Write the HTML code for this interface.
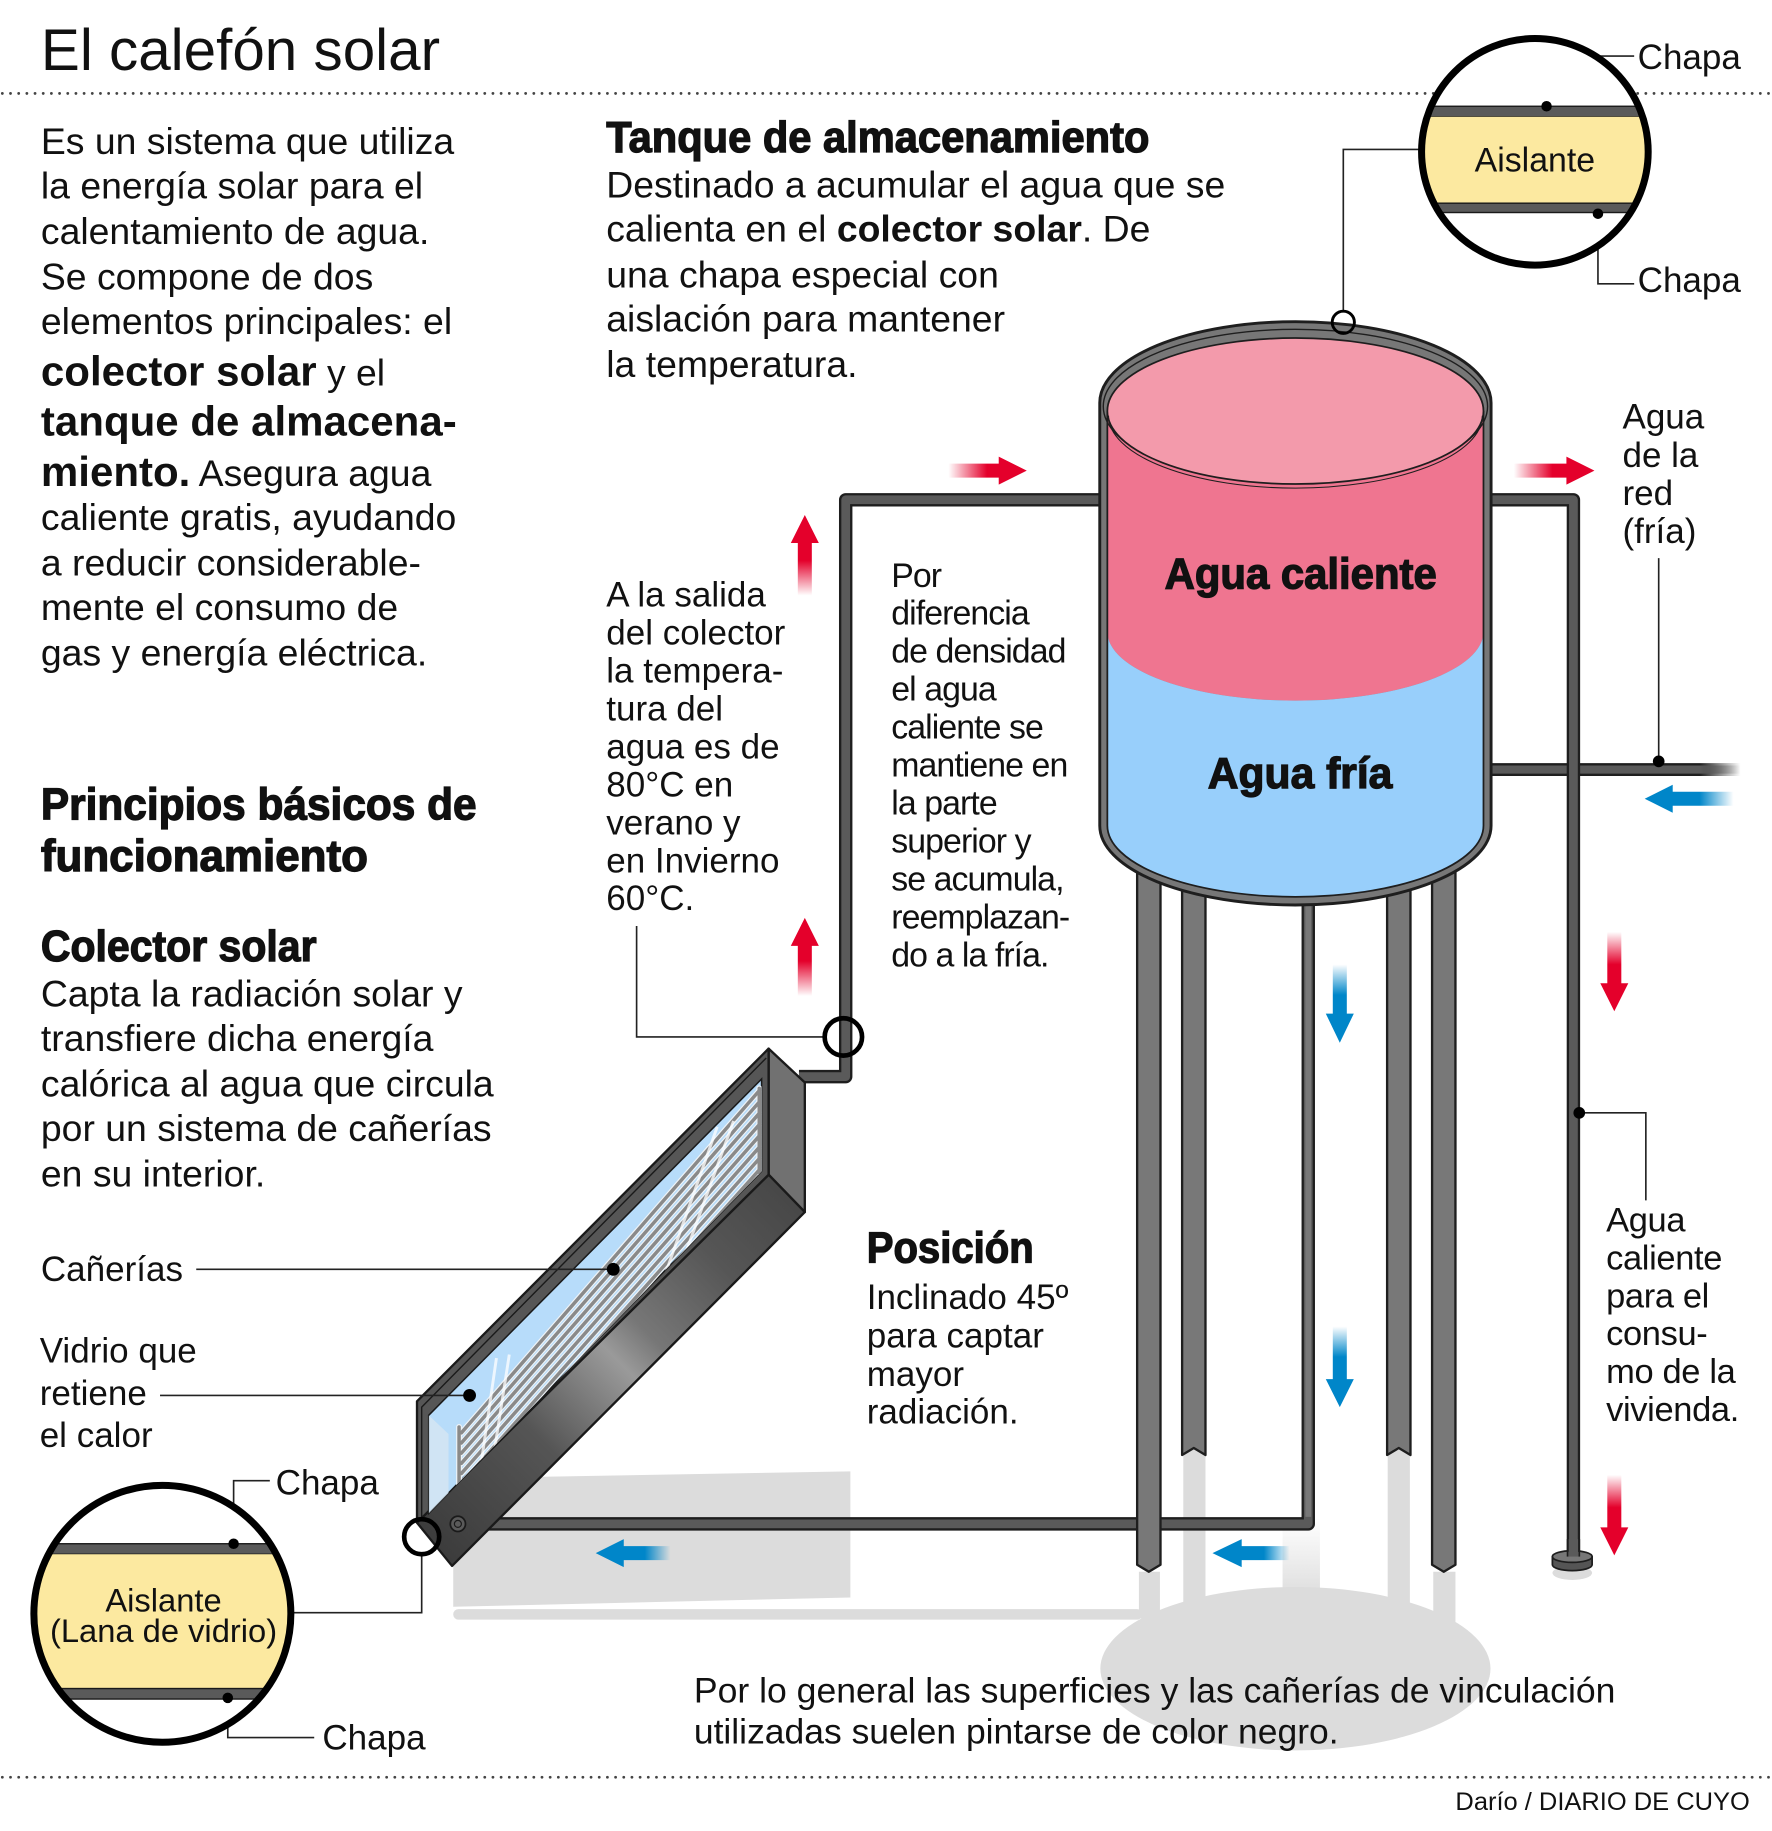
<!DOCTYPE html>
<html><head><meta charset="utf-8"><style>
html,body{margin:0;padding:0;background:#fff;overflow:hidden}
svg{display:block}
text{font-family:"Liberation Sans",Arial,sans-serif;fill:#111}
.h{font-weight:bold;stroke:#111;stroke-width:1.1}
</style></head><body>
<svg xmlns="http://www.w3.org/2000/svg" width="1772" height="1831" viewBox="0 0 1517 1568" preserveAspectRatio="none">
<defs>
<linearGradient id="gR1" gradientUnits="userSpaceOnUse" x1="812" y1="0" x2="845" y2="0"><stop offset="0" stop-color="#e4002b" stop-opacity="0"/><stop offset="1" stop-color="#e4002b"/></linearGradient>
<linearGradient id="gR2" gradientUnits="userSpaceOnUse" x1="1296" y1="0" x2="1329" y2="0"><stop offset="0" stop-color="#e4002b" stop-opacity="0"/><stop offset="1" stop-color="#e4002b"/></linearGradient>
<linearGradient id="gU1" gradientUnits="userSpaceOnUse" x1="0" y1="510" x2="0" y2="480"><stop offset="0" stop-color="#e4002b" stop-opacity="0"/><stop offset="1" stop-color="#e4002b"/></linearGradient>
<linearGradient id="gU2" gradientUnits="userSpaceOnUse" x1="0" y1="853" x2="0" y2="823"><stop offset="0" stop-color="#e4002b" stop-opacity="0"/><stop offset="1" stop-color="#e4002b"/></linearGradient>
<linearGradient id="gD1" gradientUnits="userSpaceOnUse" x1="0" y1="798" x2="0" y2="826"><stop offset="0" stop-color="#e4002b" stop-opacity="0"/><stop offset="1" stop-color="#e4002b"/></linearGradient>
<linearGradient id="gD2" gradientUnits="userSpaceOnUse" x1="0" y1="1263" x2="0" y2="1291"><stop offset="0" stop-color="#e4002b" stop-opacity="0"/><stop offset="1" stop-color="#e4002b"/></linearGradient>
<linearGradient id="gB1" gradientUnits="userSpaceOnUse" x1="1484" y1="0" x2="1455" y2="0"><stop offset="0" stop-color="#0086c9" stop-opacity="0"/><stop offset="1" stop-color="#0086c9"/></linearGradient>
<linearGradient id="gB2" gradientUnits="userSpaceOnUse" x1="0" y1="826" x2="0" y2="852"><stop offset="0" stop-color="#0086c9" stop-opacity="0"/><stop offset="1" stop-color="#0086c9"/></linearGradient>
<linearGradient id="gB3" gradientUnits="userSpaceOnUse" x1="0" y1="1136" x2="0" y2="1162"><stop offset="0" stop-color="#0086c9" stop-opacity="0"/><stop offset="1" stop-color="#0086c9"/></linearGradient>
<linearGradient id="gB4" gradientUnits="userSpaceOnUse" x1="574" y1="0" x2="552" y2="0"><stop offset="0" stop-color="#0086c9" stop-opacity="0"/><stop offset="1" stop-color="#0086c9"/></linearGradient>
<linearGradient id="gB5" gradientUnits="userSpaceOnUse" x1="1104" y1="0" x2="1082" y2="0"><stop offset="0" stop-color="#0086c9" stop-opacity="0"/><stop offset="1" stop-color="#0086c9"/></linearGradient>
<linearGradient id="gPipeO" gradientUnits="userSpaceOnUse" x1="1455" y1="0" x2="1490" y2="0"><stop offset="0" stop-color="#1e1e1e"/><stop offset="1" stop-color="#1e1e1e" stop-opacity="0"/></linearGradient>
<linearGradient id="gPipeI" gradientUnits="userSpaceOnUse" x1="1455" y1="0" x2="1490" y2="0"><stop offset="0" stop-color="#5a5a5a"/><stop offset="1" stop-color="#5a5a5a" stop-opacity="0"/></linearGradient>
<linearGradient id="gBottom" gradientUnits="userSpaceOnUse" x1="370" y1="1322" x2="675" y2="1020"><stop offset="0" stop-color="#3c3c3c"/><stop offset="0.3" stop-color="#555"/><stop offset="0.52" stop-color="#9a9a9a"/><stop offset="0.6" stop-color="#777"/><stop offset="0.8" stop-color="#565656"/><stop offset="1" stop-color="#474747"/></linearGradient>
<linearGradient id="gShad" gradientUnits="userSpaceOnUse" x1="0" y1="1300" x2="0" y2="1370"><stop offset="0" stop-color="#dcdcdc" stop-opacity="0"/><stop offset="1" stop-color="#dcdcdc"/></linearGradient>
<clipPath id="cGlass"><polygon points="367,1212 652,924 652,1003 367,1296"/></clipPath>
<clipPath id="cTop"><circle cx="1314" cy="130" r="97"/></clipPath>
<clipPath id="cBot"><circle cx="139" cy="1382" r="110"/></clipPath>
</defs>

<!-- shadows (background) -->
<polygon points="388,1266 728,1260 728,1368 388,1376" fill="#dcdcdc"/>
<rect x="388" y="1378" width="590" height="9" rx="4.5" fill="#dcdcdc"/>
<ellipse cx="1109" cy="1429" rx="167" ry="70" fill="#dcdcdc"/>
<rect x="975" y="1346" width="18" height="40" fill="#dcdcdc"/>
<rect x="1013" y="1240" width="19" height="160" fill="#dcdcdc"/>
<rect x="1188" y="1240" width="19" height="160" fill="#dcdcdc"/>
<rect x="1227" y="1346" width="19" height="80" fill="#dcdcdc"/>
<rect x="1098" y="1300" width="32" height="70" fill="url(#gShad)"/>
<ellipse cx="1346" cy="1347" rx="17" ry="6" fill="#dcdcdc"/>

<!-- dotted rules -->
<line x1="2" y1="80" x2="1517" y2="80" stroke="#444" stroke-width="2.4" stroke-dasharray="0 7" stroke-linecap="round"/>
<line x1="2" y1="1522" x2="1517" y2="1522" stroke="#444" stroke-width="2.4" stroke-dasharray="0 7" stroke-linecap="round"/>

<!-- pipes -->
<g fill="none" stroke-linejoin="round">
<path d="M684,922 H724 V428 H950" stroke="#1e1e1e" stroke-width="11.5"/>
<path d="M684,922 H724 V428 H950" stroke="#5a5a5a" stroke-width="7.5"/>
<path d="M1268,659 H1490" stroke="url(#gPipeO)" stroke-width="11"/>
<path d="M1268,659 H1490" stroke="url(#gPipeI)" stroke-width="7"/>
<path d="M1268,428 H1347 V1334" stroke="#1e1e1e" stroke-width="11.5"/>
<path d="M1268,428 H1347 V1334" stroke="#5a5a5a" stroke-width="7.5"/>
<path d="M392,1305 H1120 V760" stroke="#1e1e1e" stroke-width="11.5"/>
<path d="M392,1305 H1120 V760" stroke="#5a5a5a" stroke-width="7.5"/>
</g>
<line x1="1120" y1="770" x2="1120" y2="1299" stroke="#777" stroke-width="5"/>

<!-- pipe base -->
<path d="M1329,1333 V1340 A17,5 0 0 0 1363,1340 V1333 Z" fill="#555" stroke="#1e1e1e" stroke-width="1.5"/>
<ellipse cx="1346" cy="1333" rx="17" ry="5" fill="#777" stroke="#1e1e1e" stroke-width="1.5"/>
<rect x="1343" y="1318" width="8" height="15" fill="#5a5a5a"/>
<line x1="1342" y1="1318" x2="1342" y2="1333" stroke="#1e1e1e" stroke-width="1.5"/>
<line x1="1352" y1="1318" x2="1352" y2="1333" stroke="#1e1e1e" stroke-width="1.5"/>

<!-- legs -->
<g fill="#787878" stroke="#1e1e1e" stroke-width="2" stroke-linejoin="round">
<path d="M973.5,740 V1340 L983.5,1346 L993.5,1340 V740 Z"/>
<path d="M1012,760 V1246 L1022,1240 L1032,1246 V760 Z"/>
<path d="M1187.5,760 V1246 L1197.5,1240 L1207.5,1246 V760 Z"/>
<path d="M1226,740 V1340 L1236,1346 L1246,1340 V740 Z"/>
</g>

<!-- tank -->
<path d="M941.5,345 A167.5,69.5 0 0 1 1276.5,345 V707 A167.5,68 0 0 1 941.5,707 Z" fill="#777" stroke="#1e1e1e" stroke-width="2.5"/>
<path d="M948,352 H1270 V541 A161,59 0 0 1 948,541 Z" fill="#ef7590"/>
<path d="M948,541 A161,59 0 0 0 1270,541 V707 A161,61 0 0 1 948,707 Z" fill="#98cffb"/>
<path d="M948,352 V707 A161,61 0 0 0 1270,707 V352" fill="none" stroke="#1e1e1e" stroke-width="1.5"/>
<ellipse cx="1109" cy="348" rx="164.5" ry="66" fill="none" stroke="#1e1e1e" stroke-width="1.2"/>
<ellipse cx="1109" cy="352" rx="161" ry="62.5" fill="#f39aab" stroke="#1e1e1e" stroke-width="1.5"/>
<path d="M949,356 A160,62 0 0 0 1269,356" fill="none" stroke="#1e1e1e" stroke-width="0.9"/>

<!-- collector -->
<polygon points="658,898 689,927 689,1038 658,1006" fill="#717171" stroke="#1a1a1a" stroke-width="2" stroke-linejoin="round"/>
<polygon points="357,1304 658,1006 689,1038 387,1341" fill="url(#gBottom)" stroke="#1a1a1a" stroke-width="2" stroke-linejoin="round"/>
<polygon points="357,1200 658,898 658,1006 357,1304" fill="#565656" stroke="#1a1a1a" stroke-width="2" stroke-linejoin="round"/>
<polyline points="361,1300 361,1205 656,906" fill="none" stroke="#1a1a1a" stroke-width="1.2"/>
<polygon points="367,1212 652,924 652,1003 367,1296" fill="#b7dcfa" stroke="#1a1a1a" stroke-width="1.3"/>
<g clip-path="url(#cGlass)">
<polygon points="367,1212 384,1228 384,1296 367,1296" fill="#d6e6f2" opacity="0.8"/>
<g fill="none" stroke="#eef3f7" stroke-width="5" stroke-linecap="round">
<line x1="395" y1="1227" x2="650" y2="934"/>
<line x1="395" y1="1235.7" x2="650" y2="943.7"/>
<line x1="395" y1="1244.4" x2="650" y2="953.4"/>
<line x1="395" y1="1253.1" x2="650" y2="963.1"/>
<line x1="395" y1="1261.8" x2="650" y2="972.8"/>
<line x1="395" y1="1270.5" x2="650" y2="982.5"/>
<line x1="395" y1="1279.2" x2="650" y2="992.2"/>
<line x1="395" y1="1287.9" x2="650" y2="1001.9"/>
<line x1="393" y1="1222" x2="393" y2="1296"/>
<line x1="650" y1="932" x2="650" y2="1004"/>
</g>
<g fill="none" stroke="#8a8a8a" stroke-width="3" stroke-linecap="round">
<line x1="395" y1="1227" x2="650" y2="934"/>
<line x1="395" y1="1235.7" x2="650" y2="943.7"/>
<line x1="395" y1="1244.4" x2="650" y2="953.4"/>
<line x1="395" y1="1253.1" x2="650" y2="963.1"/>
<line x1="395" y1="1261.8" x2="650" y2="972.8"/>
<line x1="395" y1="1270.5" x2="650" y2="982.5"/>
<line x1="395" y1="1279.2" x2="650" y2="992.2"/>
<line x1="395" y1="1287.9" x2="650" y2="1001.9"/>
<line x1="393" y1="1222" x2="393" y2="1296"/>
<line x1="650" y1="932" x2="650" y2="1004"/>
</g>
<g stroke="#fff" stroke-opacity="0.75" stroke-width="2.5" fill="none">
<line x1="559" y1="1121" x2="614" y2="965"/>
<line x1="571" y1="1117" x2="628" y2="960"/>
<line x1="408" y1="1280" x2="425" y2="1163"/>
<line x1="418" y1="1276" x2="436" y2="1160"/>
</g>
</g>
<circle cx="392" cy="1305" r="6.5" fill="#5a5a5a" stroke="#1a1a1a" stroke-width="1.5"/>
<circle cx="392" cy="1305" r="3" fill="none" stroke="#1a1a1a" stroke-width="1"/>

<!-- leaders -->
<g fill="none" stroke="#222" stroke-width="1.4">
<path d="M545,793 V888 H706"/>
<path d="M168,1087 H525"/>
<path d="M137,1195 H402"/>
<path d="M1420,478 V652"/>
<path d="M1352,953 H1409 V1028"/>
<path d="M1150,266 V128 H1217"/>
<path d="M1324,91 V48 H1399"/>
<path d="M1368,183 V243 H1399"/>
<path d="M200,1321 V1268 H231"/>
<path d="M195,1454 V1488 H269"/>
<path d="M249,1381 H361 V1332"/>
</g>
<g fill="#000">
<circle cx="525" cy="1087" r="5.5"/>
<circle cx="402" cy="1195" r="5.5"/>
<circle cx="1420" cy="652" r="5"/>
<circle cx="1352" cy="953" r="5"/>
</g>
<circle cx="722" cy="888" r="16" fill="none" stroke="#000" stroke-width="4"/>
<circle cx="361" cy="1316" r="15" fill="none" stroke="#000" stroke-width="4"/>
<circle cx="1150" cy="276" r="9.5" fill="none" stroke="#000" stroke-width="2.5"/>

<!-- top detail circle -->
<circle cx="1314" cy="130" r="97" fill="#fff"/>
<g clip-path="url(#cTop)">
<rect x="1210" y="91" width="210" height="9" fill="#5a5a5a" stroke="#1a1a1a" stroke-width="1.2"/>
<rect x="1210" y="100" width="210" height="74" fill="#fce9a0"/>
<rect x="1210" y="174" width="210" height="8" fill="#5a5a5a" stroke="#1a1a1a" stroke-width="1.2"/>
</g>
<circle cx="1314" cy="130" r="97" fill="none" stroke="#000" stroke-width="6"/>
<circle cx="1324" cy="91" r="4.5" fill="#000"/>
<circle cx="1368" cy="183" r="4.5" fill="#000"/>

<!-- bottom-left detail circle -->
<circle cx="139" cy="1382" r="110" fill="#fff"/>
<g clip-path="url(#cBot)">
<rect x="25" y="1322" width="230" height="9" fill="#5a5a5a" stroke="#1a1a1a" stroke-width="1.2"/>
<rect x="25" y="1331" width="230" height="115" fill="#fce9a0"/>
<rect x="25" y="1446" width="230" height="9" fill="#5a5a5a" stroke="#1a1a1a" stroke-width="1.2"/>
</g>
<circle cx="139" cy="1382" r="110" fill="none" stroke="#000" stroke-width="6"/>
<circle cx="200" cy="1322" r="4.5" fill="#000"/>
<circle cx="195" cy="1454" r="4.5" fill="#000"/>

<!-- arrows -->
<path d="M812,397 H855 V391 L879,403 L855,415 V409 H812 Z" fill="url(#gR1)"/>
<path d="M1296,397 H1341 V391 L1365,403 L1341,415 V409 H1296 Z" fill="url(#gR2)"/>
<path d="M683,510 V465 H677 L689,441 L701,465 H695 V510 Z" fill="url(#gU1)"/>
<path d="M683,853 V810 H677 L689,786 L701,810 H695 V853 Z" fill="url(#gU2)"/>
<path d="M1376,798 V842 H1370 L1382,866 L1394,842 H1388 V798 Z" fill="url(#gD1)"/>
<path d="M1376,1263 V1308 H1370 L1382,1332 L1394,1308 H1388 V1263 Z" fill="url(#gD2)"/>
<path d="M1484,678 H1432 V672 L1408,684 L1432,696 V690 H1484 Z" fill="url(#gB1)"/>
<path d="M1141,826 V868 H1135 L1147,893 L1159,868 H1153 V826 Z" fill="url(#gB2)"/>
<path d="M1141,1136 V1181 H1135 L1147,1205 L1159,1181 H1153 V1136 Z" fill="url(#gB3)"/>
<path d="M574,1324 H534 V1318 L510,1330 L534,1342 V1336 H574 Z" fill="url(#gB4)"/>
<path d="M1104,1324 H1063 V1318 L1038,1330 L1063,1342 V1336 H1104 Z" fill="url(#gB5)"/>

<!-- ===== TEXT (on top) ===== -->
<text x="35" y="60" font-size="50">El calefón solar</text>

<g font-size="32">
<text x="35" y="132">Es un sistema que utiliza</text>
<text x="35" y="170">la energía solar para el</text>
<text x="35" y="209">calentamiento de agua.</text>
<text x="35" y="248">Se compone de dos</text>
<text x="35" y="286">elementos principales: el</text>
<text x="35" y="330"><tspan font-weight="bold" font-size="36">colector solar</tspan> y el</text>
<text x="35" y="373" font-weight="bold" font-size="36">tanque de almacena-</text>
<text x="35" y="416"><tspan font-weight="bold" font-size="36">miento.</tspan> Asegura agua</text>
<text x="35" y="454">caliente gratis, ayudando</text>
<text x="35" y="493">a reducir considerable-</text>
<text x="35" y="531">mente el consumo de</text>
<text x="35" y="570">gas y energía eléctrica.</text>
</g>

<text class="h" x="519" y="130" font-size="37" textLength="465" lengthAdjust="spacingAndGlyphs">Tanque de almacenamiento</text>
<g font-size="32">
<text x="519" y="169">Destinado a acumular el agua que se</text>
<text x="519" y="207">calienta en el <tspan font-weight="bold">colector solar</tspan>. De</text>
<text x="519" y="246">una chapa especial con</text>
<text x="519" y="284">aislación para mantener</text>
<text x="519" y="323">la temperatura.</text>
</g>

<text class="h" x="35" y="702" font-size="38" textLength="373" lengthAdjust="spacingAndGlyphs">Principios básicos de</text>
<text class="h" x="35" y="746" font-size="38" textLength="280" lengthAdjust="spacingAndGlyphs">funcionamiento</text>
<text class="h" x="35" y="823" font-size="37" textLength="236" lengthAdjust="spacingAndGlyphs">Colector solar</text>
<g font-size="32">
<text x="35" y="862">Capta la radiación solar y</text>
<text x="35" y="900">transfiere dicha energía</text>
<text x="35" y="939">calórica al agua que circula</text>
<text x="35" y="977">por un sistema de cañerías</text>
<text x="35" y="1016">en su interior.</text>
</g>

<g font-size="30">
<text x="519" y="519.5">A la salida</text>
<text x="519" y="552">del colector</text>
<text x="519" y="584.5">la tempera-</text>
<text x="519" y="617">tura del</text>
<text x="519" y="649.5">agua es de</text>
<text x="519" y="682">80°C en</text>
<text x="519" y="714.5">verano y</text>
<text x="519" y="747">en Invierno</text>
<text x="519" y="779.5">60°C.</text>

<text x="1389" y="367">Agua</text>
<text x="1389" y="400">de la</text>
<text x="1389" y="432.5">red</text>
<text x="1389" y="465">(fría)</text>

<text x="742" y="1121">Inclinado 45º</text>
<text x="742" y="1154">para captar</text>
<text x="742" y="1187">mayor</text>
<text x="742" y="1219">radiación.</text>

<text x="35" y="1097">Cañerías</text>
<text x="34" y="1167">Vidrio que</text>
<text x="34" y="1203">retiene</text>
<text x="34" y="1239">el calor</text>
<text x="236" y="1280">Chapa</text>
<text x="276" y="1498">Chapa</text>
<text x="1402" y="59">Chapa</text>
<text x="1402" y="250">Chapa</text>

<text x="594" y="1458" textLength="789" lengthAdjust="spacingAndGlyphs">Por lo general las superficies y las cañerías de vinculación</text>
<text x="594" y="1493" textLength="552" lengthAdjust="spacingAndGlyphs">utilizadas suelen pintarse de color negro.</text>
</g>

<g font-size="29" letter-spacing="-0.8">
<text x="763" y="502.5">Por</text>
<text x="763" y="535">diferencia</text>
<text x="763" y="567.5">de densidad</text>
<text x="763" y="600">el agua</text>
<text x="763" y="632.5">caliente se</text>
<text x="763" y="665">mantiene en</text>
<text x="763" y="697.5">la parte</text>
<text x="763" y="730">superior y</text>
<text x="763" y="762.5">se acumula,</text>
<text x="763" y="795">reemplazan-</text>
<text x="763" y="827.5">do a la fría.</text>
</g>

<g font-size="29.5" letter-spacing="-0.3">
<text x="1375" y="1054.5">Agua</text>
<text x="1375" y="1087">caliente</text>
<text x="1375" y="1119.5">para el</text>
<text x="1375" y="1152">consu-</text>
<text x="1375" y="1184.5">mo de la</text>
<text x="1375" y="1217">vivienda.</text>
</g>

<text class="h" x="742" y="1081" font-size="37" textLength="143" lengthAdjust="spacingAndGlyphs">Posición</text>
<text class="h" x="997" y="504" font-size="37" textLength="233" lengthAdjust="spacingAndGlyphs">Agua caliente</text>
<text class="h" x="1034" y="675" font-size="37" textLength="158" lengthAdjust="spacingAndGlyphs">Agua fría</text>

<text x="1314" y="147" font-size="29" text-anchor="middle">Aislante</text>
<text x="140" y="1380" font-size="28" text-anchor="middle">Aislante</text>
<text x="140" y="1406" font-size="28" text-anchor="middle">(Lana de vidrio)</text>

<text x="1246" y="1550" font-size="21" textLength="252" lengthAdjust="spacingAndGlyphs">Darío / DIARIO DE CUYO</text>
</svg>
</body></html>
